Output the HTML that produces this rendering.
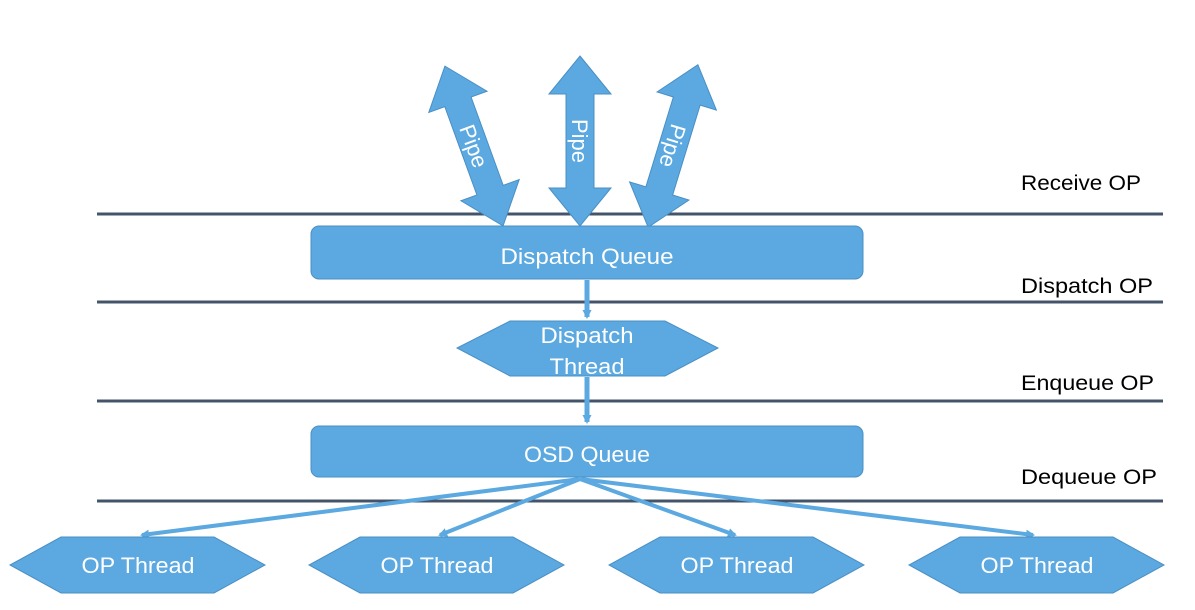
<!DOCTYPE html>
<html><head><meta charset="utf-8"><style>
body{margin:0;background:#fff}
svg text{font-family:"Liberation Sans",sans-serif}
</style></head><body>
<svg width="1195" height="605" xmlns="http://www.w3.org/2000/svg">
<defs>
<marker id="ah" markerWidth="9" markerHeight="9" refX="7" refY="4.5" orient="auto" markerUnits="userSpaceOnUse"><path d="M0,0 L9,4.5 L0,9 Z" fill="#5ba9e0"/></marker>
<g id="dbl"><path d="M0,-85 L31,-47 L14,-47 L14,47 L31,47 L0,85 L-31,47 L-14,47 L-14,-47 L-31,-47 Z" fill="#5ba9e0" stroke="#4a8fc5" stroke-width="1"/></g>
</defs>
<g stroke="#44546a" stroke-width="3">
<line x1="97" y1="214" x2="1163" y2="214"/><line x1="97" y1="302" x2="1163" y2="302"/>
<line x1="97" y1="401" x2="1163" y2="401"/><line x1="97" y1="501" x2="1163" y2="501"/>
</g>
<g font-size="21" fill="#000">
<text x="1021" y="190" textLength="120" lengthAdjust="spacingAndGlyphs">Receive OP</text>
<text x="1021" y="293" textLength="132" lengthAdjust="spacingAndGlyphs">Dispatch OP</text>
<text x="1021" y="390" textLength="133" lengthAdjust="spacingAndGlyphs">Enqueue OP</text>
<text x="1021" y="484" textLength="136" lengthAdjust="spacingAndGlyphs">Dequeue OP</text>
</g>
<g transform="translate(474,146) rotate(-20)"><use href="#dbl"/><text transform="rotate(90)" x="0" y="8" font-size="22" fill="#fff" text-anchor="middle">Pipe</text></g>
<g transform="translate(580,141)"><use href="#dbl"/><text transform="rotate(90)" x="0" y="8" font-size="22" fill="#fff" text-anchor="middle">Pipe</text></g>
<g transform="translate(673,146) rotate(17)"><use href="#dbl"/><text transform="rotate(90)" x="0" y="8" font-size="22" fill="#fff" text-anchor="middle">Pipe</text></g>
<rect x="311" y="226" width="552" height="53" rx="8" fill="#5ba9e0" stroke="#4a8fc5"/>
<text x="587" y="264" font-size="22" fill="#fff" text-anchor="middle" textLength="173" lengthAdjust="spacingAndGlyphs">Dispatch Queue</text>
<rect x="311" y="426" width="552" height="51" rx="8" fill="#5ba9e0" stroke="#4a8fc5"/>
<text x="587" y="462" font-size="22" fill="#fff" text-anchor="middle" textLength="126" lengthAdjust="spacingAndGlyphs">OSD Queue</text>
<path d="M510,321 L665,321 L718,348 L665,376 L510,376 L457,348 Z" fill="#5ba9e0" stroke="#4a8fc5"/>
<text x="587" y="343" font-size="22" fill="#fff" text-anchor="middle" textLength="93" lengthAdjust="spacingAndGlyphs">Dispatch</text>
<text x="587" y="374" font-size="22" fill="#fff" text-anchor="middle" textLength="75" lengthAdjust="spacingAndGlyphs">Thread</text>
<g stroke="#5ba9e0" stroke-width="5" fill="none" marker-end="url(#ah)">
<line x1="587" y1="280" x2="587" y2="317"/>
<line x1="587" y1="377" x2="587" y2="422"/>
</g>
<g stroke="#5ba9e0" stroke-width="4" fill="none" marker-end="url(#ah)">
<line x1="580" y1="479" x2="142" y2="535"/>
<line x1="580" y1="479" x2="440" y2="535"/>
<line x1="580" y1="479" x2="735" y2="535"/>
<line x1="580" y1="479" x2="1033" y2="535"/>
</g>
<g fill="#5ba9e0" stroke="#4a8fc5">
<path d="M61,537 L214,537 L265,565 L214,593 L61,593 L10,565 Z"/>
<path d="M360,537 L513,537 L564,565 L513,593 L360,593 L309,565 Z"/>
<path d="M660,537 L813,537 L864,565 L813,593 L660,593 L609,565 Z"/>
<path d="M960,537 L1113,537 L1164,565 L1113,593 L960,593 L909,565 Z"/>
</g>
<g font-size="22" fill="#fff" text-anchor="middle">
<text x="138" y="573" textLength="113" lengthAdjust="spacingAndGlyphs">OP Thread</text>
<text x="437" y="573" textLength="113" lengthAdjust="spacingAndGlyphs">OP Thread</text>
<text x="737" y="573" textLength="113" lengthAdjust="spacingAndGlyphs">OP Thread</text>
<text x="1037" y="573" textLength="113" lengthAdjust="spacingAndGlyphs">OP Thread</text>
</g>
</svg>
</body></html>
